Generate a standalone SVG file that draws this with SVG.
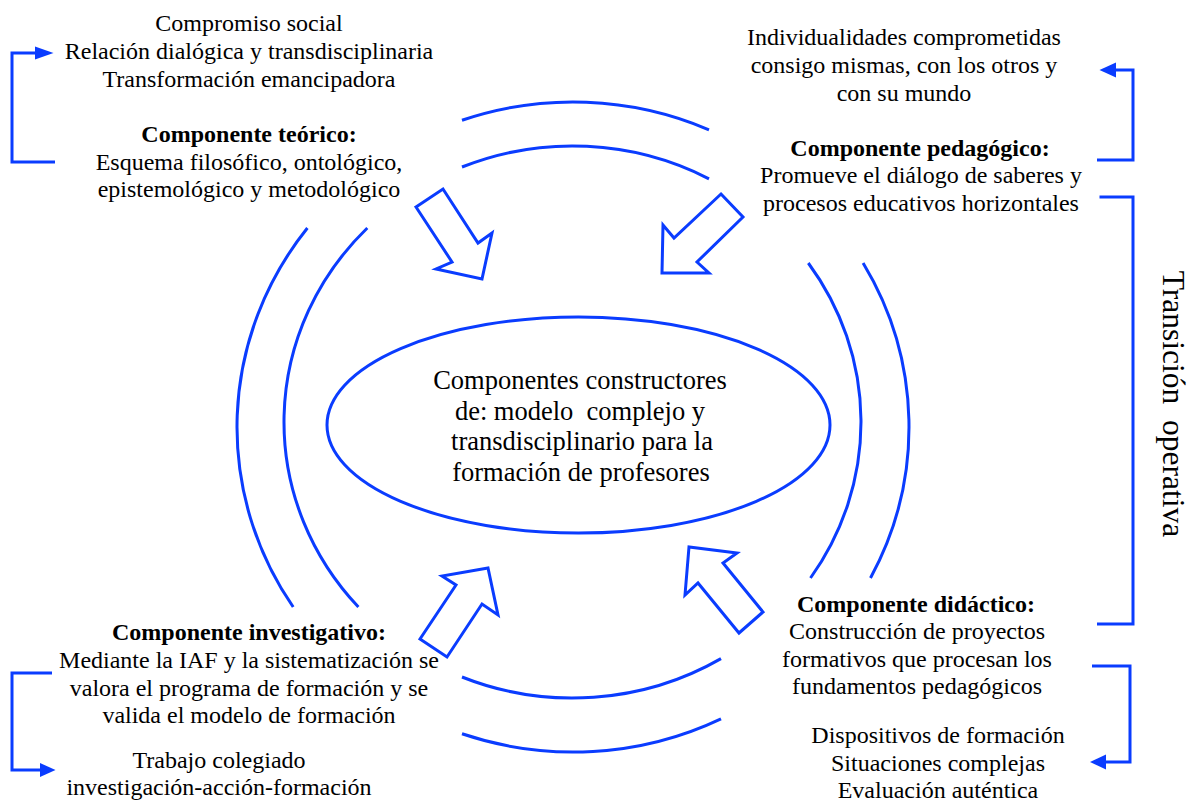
<svg xmlns="http://www.w3.org/2000/svg" width="1192" height="802" viewBox="0 0 1192 802">
  <style>
    .t { font-family: 'Liberation Serif', 'Times New Roman', serif; font-size: 24px; fill: #000; text-anchor: middle; }
    .b { font-weight: bold; }
    .c { font-size: 26.5px; }
    .v { font-size: 31.5px; }
    .ln { fill: none; stroke: #0a3cff; stroke-width: 3; }
    .ar { fill: #ffffff; stroke: #0a3cff; stroke-width: 3; stroke-linejoin: miter; }
    .hd { fill: #0a3cff; stroke: none; }
  </style>
  <rect x="0" y="0" width="1192" height="802" fill="#ffffff"/>

  <g id="rings">
    <path class="ln" d="M462,120.25 A336,325 0 0 1 709,129.8"/>
    <path class="ln" d="M462,733.75 A336,325 0 0 0 721,718.8"/>
    <path class="ln" d="M307.4,228 A336,325 0 0 0 293.2,607"/>
    <path class="ln" d="M863.1,263 A336,325 0 0 1 870.5,578"/>
    <path class="ln" d="M462,167 A288.5,276 0 0 1 709,178.8"/>
    <path class="ln" d="M462,677 A288.5,276 0 0 0 721,658.6"/>
    <path class="ln" d="M367.3,228 A288.5,276 0 0 0 358.4,607"/>
    <path class="ln" d="M808.3,263 A288.5,276 0 0 1 810.5,578"/>
  </g>

  <g id="centro">
    <ellipse class="ln" cx="578.5" cy="425" rx="251.5" ry="108"/>
    <text class="t c" x="580" y="389">Componentes constructores</text>
    <text class="t c" x="580" y="420" xml:space="preserve">de: modelo  complejo y</text>
    <text class="t c" x="582" y="450">transdisciplinario para la</text>
    <text class="t c" x="581" y="481">formación de profesores</text>
  </g>

  <g id="componente-teorico">
    <text class="t" x="249" y="31">Compromiso social</text>
    <text class="t" x="249" y="59">Relación dialógica y transdisciplinaria</text>
    <text class="t" x="249" y="87">Transformación emancipadora</text>
    <text class="t b" x="249" y="142">Componente teórico:</text>
    <text class="t" x="249" y="170">Esquema filosófico, ontológico,</text>
    <text class="t" x="249" y="197">epistemológico y metodológico</text>
  </g>

  <g id="componente-pedagogico">
    <text class="t" x="904" y="45">Individualidades comprometidas</text>
    <text class="t" x="904" y="73">consigo mismas, con los otros y</text>
    <text class="t" x="904" y="101">con su mundo</text>
    <text class="t b" x="920" y="156">Componente pedagógico:</text>
    <text class="t" x="921" y="183">Promueve el diálogo de saberes y</text>
    <text class="t" x="921" y="211">procesos educativos horizontales</text>
  </g>

  <g id="componente-investigativo">
    <text class="t b" x="249" y="640">Componente investigativo:</text>
    <text class="t" x="249" y="668">Mediante la IAF y la sistematización se</text>
    <text class="t" x="249" y="696">valora el programa de formación y se</text>
    <text class="t" x="249" y="723">valida el modelo de formación</text>
    <text class="t" x="219" y="768">Trabajo colegiado</text>
    <text class="t" x="219" y="795">investigación-acción-formación</text>
  </g>

  <g id="componente-didactico">
    <text class="t b" x="916" y="612">Componente didáctico:</text>
    <text class="t" x="917" y="639">Construcción de proyectos</text>
    <text class="t" x="917" y="667">formativos que procesan los</text>
    <text class="t" x="917" y="694">fundamentos pedagógicos</text>
    <text class="t" x="938" y="743">Dispositivos de formación</text>
    <text class="t" x="938" y="771">Situaciones complejas</text>
    <text class="t" x="938" y="798">Evaluación auténtica</text>
  </g>

  <g id="transicion-operativa">
    <text class="t v" transform="translate(1163,404) rotate(90)" x="0" y="0" xml:space="preserve">Transición  operativa</text>
  </g>

  <g id="connectors">
    <polygon class="ar" points="416,207 443,189 478,243 492,233 482,279 436,269 452,262"/>
    <polygon class="ar" points="721,194 743,217 697,262 709,273 662,273 663,225 674,238"/>
    <polygon class="ar" points="420,639 447,657 482,604 498,615 488,568 442,576 456,585"/>
    <polygon class="ar" points="763,612 739,633 698,583 685,595 689,547 737,553 723,563"/>

    <path class="ln" d="M55,162 H12 V53 H37"/>
    <polygon class="hd" points="35,46.5 53.5,53 35,59.5"/>

    <path class="ln" d="M1097,160 H1133 V70 H1114"/>
    <polygon class="hd" points="1116,62.5 1099.5,70 1116,77.5"/>

    <path class="ln" d="M1099.5,197 H1133 V624 H1097"/>

    <path class="ln" d="M1092,666 H1130 V762 H1104"/>
    <polygon class="hd" points="1106,754.5 1090,762 1106,769.5"/>

    <path class="ln" d="M52,673 H12 V770 H42"/>
    <polygon class="hd" points="40,763 55.5,770 40,777"/>
  </g>
</svg>
